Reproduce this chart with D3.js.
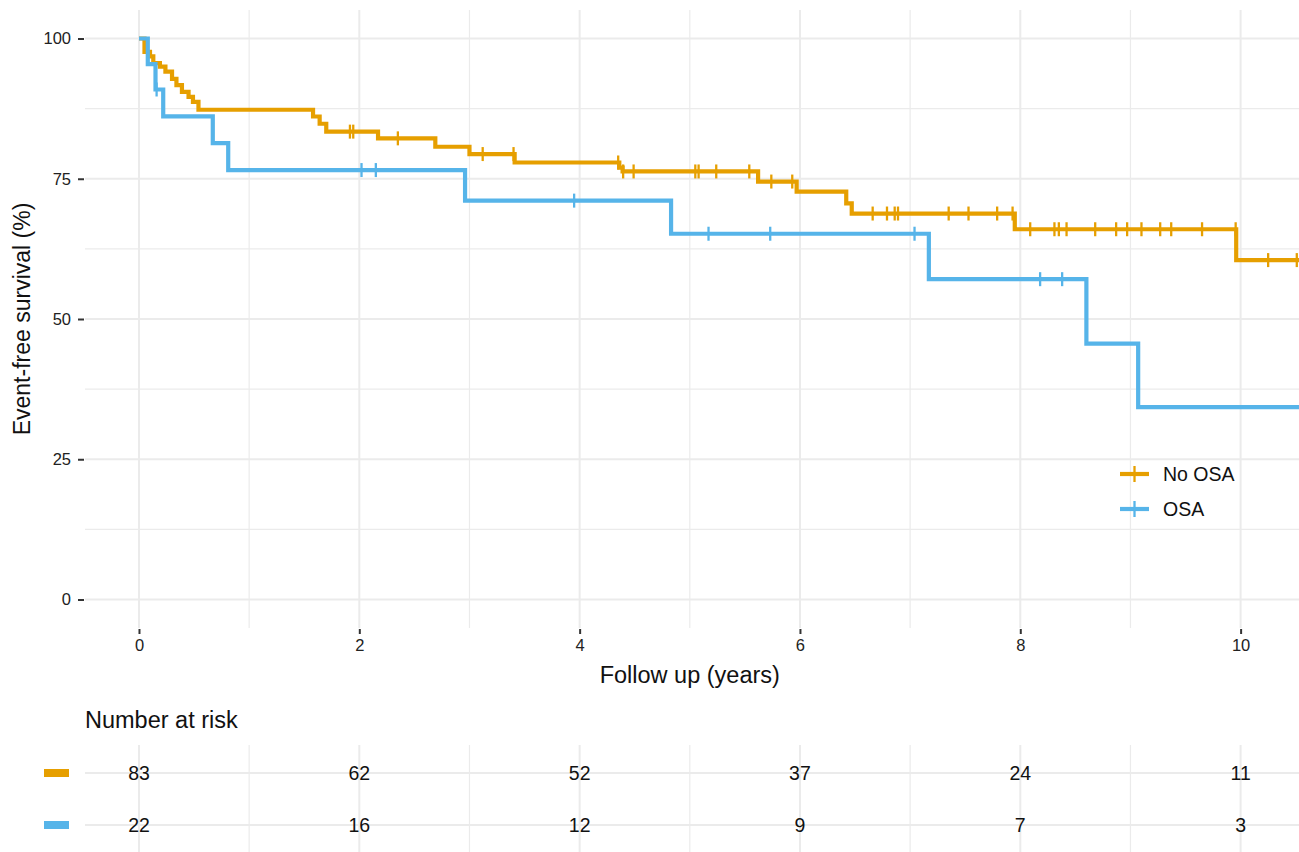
<!DOCTYPE html>
<html>
<head>
<meta charset="utf-8">
<script src="https://cdn.jsdelivr.net/npm/d3@7"></script>
<style>
  html, body { margin: 0; padding: 0; background: #fff; }
  svg { display: block; font-family: "Liberation Sans", Arial, Helvetica, sans-serif; }
</style>
</head>
<body>
<svg id="chart" width="1299" height="852"></svg>
<script>
// ---------------- DATA ----------------
const categories = ["No OSA", "OSA"];
const colors = ["#E69F00", "#56B4E9"];

// No OSA: step times (years) and survival (%) after each step
const noOsaTimes = [0, 0.05, 0.10, 0.13, 0.19, 0.24, 0.30, 0.34, 0.39, 0.45, 0.49, 0.54,
                    1.58, 1.64, 1.70, 2.17, 2.69, 3.00, 3.41, 4.36, 4.39, 5.62, 5.97, 6.42, 6.47, 7.95, 9.96];
const noOsaSurv  = [100, 97.6, 96.8, 95.6, 95.0, 94.1, 92.8, 91.7, 90.5, 89.6, 88.7, 87.3,
                    86.1, 84.8, 83.4, 82.2, 80.7, 79.4, 77.9, 77.0, 76.3, 74.5, 72.7, 70.6, 68.8, 66.0, 60.5];
const noOsaCensor = [1.915, 1.945, 2.35, 3.12, 3.40, 4.35, 4.395, 4.49, 5.05, 5.08, 5.24, 5.54, 5.74, 5.93,
                     6.66, 6.79, 6.86, 6.89, 7.35, 7.53, 7.79, 7.93, 8.09, 8.31, 8.35, 8.42, 8.68, 8.87,
                     8.97, 9.10, 9.27, 9.37, 9.65, 9.955, 10.25, 10.51];

// OSA
const osaTimes = [0, 0.08, 0.15, 0.22, 0.67, 0.81, 2.96, 4.83, 7.17, 8.60, 9.07];
const osaSurv  = [100, 95.45, 90.91, 86.12, 81.34, 76.55, 71.1, 65.2, 57.1, 45.6, 34.3];
const osaCensor = [0.16, 2.02, 2.15, 3.95, 5.17, 5.73, 7.04, 8.18, 8.38];

// Number at risk
const riskTimes = [0, 2, 4, 6, 8, 10];
const noOsaRisk = [83, 62, 52, 37, 24, 11];
const osaRisk   = [22, 16, 12, 9, 7, 3];

const xTicks = [0, 2, 4, 6, 8, 10];
const xMinor = [1, 3, 5, 7, 9];
const yTicks = [0, 25, 50, 75, 100];
const yMinor = [12.5, 37.5, 62.5, 87.5];

const xTitle = "Follow up (years)";
const yTitle = "Event-free survival (%)";
const riskTitle = "Number at risk";

// ---------------- LAYOUT ----------------
const svg = d3.select("#chart");
const panel = { left: 85, right: 1299, top: 10, bottom: 628 };
const x = d3.scaleLinear().domain([-0.49, 10.53]).range([panel.left, panel.right]);
const y = d3.scaleLinear().domain([0, 100]).range([599.5, 38.5]);
const grid = "#ebebeb";

svg.append("defs").append("clipPath").attr("id", "clip")
  .append("rect").attr("x", panel.left).attr("y", panel.top)
  .attr("width", panel.right - panel.left).attr("height", panel.bottom - panel.top);

// gridlines
const g = svg.append("g");
g.selectAll(".ymin").data(yMinor).join("line")
  .attr("x1", panel.left).attr("x2", panel.right)
  .attr("y1", d => y(d)).attr("y2", d => y(d))
  .attr("stroke", grid).attr("stroke-width", 1.2);
g.selectAll(".xmin").data(xMinor).join("line")
  .attr("y1", panel.top).attr("y2", panel.bottom)
  .attr("x1", d => x(d)).attr("x2", d => x(d))
  .attr("stroke", grid).attr("stroke-width", 1.2);
g.selectAll(".ymaj").data(yTicks).join("line")
  .attr("x1", panel.left).attr("x2", panel.right)
  .attr("y1", d => y(d)).attr("y2", d => y(d))
  .attr("stroke", grid).attr("stroke-width", 2);
g.selectAll(".xmaj").data(xTicks).join("line")
  .attr("y1", panel.top).attr("y2", panel.bottom)
  .attr("x1", d => x(d)).attr("x2", d => x(d))
  .attr("stroke", grid).attr("stroke-width", 2);

// axes
const yAxis = svg.append("g").attr("transform", `translate(${panel.left - 1},0)`)
  .call(d3.axisLeft(y).tickValues(yTicks).tickSize(6).tickPadding(7));
const xAxis = svg.append("g").attr("transform", `translate(0,${panel.bottom + 1})`)
  .call(d3.axisBottom(x).tickValues(xTicks).tickSize(5).tickPadding(5));
[yAxis, xAxis].forEach(a => {
  a.attr("font-size", null).attr("font-family", null);
  a.select(".domain").remove();
  a.selectAll("line").attr("stroke", "#333").attr("stroke-width", 2);
  a.selectAll("text").attr("fill", "#222").style("font-size", "16.5px")
    .style("font-family", "'Liberation Sans', Arial, sans-serif");
});

svg.append("text").attr("x", x(5.0)).attr("y", 683).attr("text-anchor", "middle")
  .style("font-size", "23.5px").attr("fill", "#111").text(xTitle);
svg.append("text").attr("transform", `translate(30,${y(50)}) rotate(-90)`)
  .attr("text-anchor", "middle").style("font-size", "23px").attr("fill", "#111").text(yTitle);

// curves
function stepPath(times, surv) {
  const pts = times.map((t, i) => [t, surv[i]]);
  pts.push([x.domain()[1], surv[surv.length - 1]]);
  return d3.line().x(d => x(d[0])).y(d => y(d[1])).curve(d3.curveStepAfter)(pts);
}
function survAt(times, surv, t) {
  let v = surv[0];
  for (let i = 0; i < times.length; i++) if (times[i] <= t) v = surv[i];
  return v;
}
const series = [
  { times: noOsaTimes, surv: noOsaSurv, cens: noOsaCensor, color: colors[0] },
  { times: osaTimes, surv: osaSurv, cens: osaCensor, color: colors[1] }
];
const plot = svg.append("g").attr("clip-path", "url(#clip)");
series.forEach(s => {
  plot.append("path").attr("d", stepPath(s.times, s.surv))
    .attr("fill", "none").attr("stroke", s.color).attr("stroke-width", 4.2)
    .attr("stroke-linejoin", "miter");
  plot.selectAll(null).data(s.cens).join("line")
    .attr("x1", d => x(d)).attr("x2", d => x(d))
    .attr("y1", d => y(survAt(s.times, s.surv, d)) - 7)
    .attr("y2", d => y(survAt(s.times, s.surv, d)) + 7)
    .attr("stroke", s.color).attr("stroke-width", 2.3);
});

// legend
const leg = svg.append("g");
categories.forEach((c, i) => {
  const ly = 474 + i * 35;
  leg.append("line").attr("x1", 1120).attr("x2", 1149).attr("y1", ly).attr("y2", ly)
    .attr("stroke", colors[i]).attr("stroke-width", 4.2);
  leg.append("line").attr("x1", 1134.5).attr("x2", 1134.5).attr("y1", ly - 8).attr("y2", ly + 8)
    .attr("stroke", colors[i]).attr("stroke-width", 2.3);
  leg.append("text").attr("x", 1163).attr("y", ly + 7).style("font-size", "19.5px")
    .attr("fill", "#111").text(c);
});

// risk table
svg.append("text").attr("x", 85).attr("y", 728).style("font-size", "23.5px")
  .attr("fill", "#111").text(riskTitle);
const rowsY = [773, 825];
const tg = svg.append("g");
tg.selectAll(".tv").data(xTicks.concat(xMinor)).join("line")
  .attr("x1", d => x(d)).attr("x2", d => x(d)).attr("y1", 745).attr("y2", 852)
  .attr("stroke", grid).attr("stroke-width", d => xTicks.includes(d) ? 2 : 1.2);
tg.selectAll(".th").data(rowsY).join("line")
  .attr("x1", panel.left).attr("x2", panel.right).attr("y1", d => d).attr("y2", d => d)
  .attr("stroke", grid).attr("stroke-width", 2);
[noOsaRisk, osaRisk].forEach((arr, i) => {
  tg.append("rect").attr("x", 44).attr("y", rowsY[i] - 4).attr("width", 25).attr("height", 8)
    .attr("fill", colors[i]);
  tg.selectAll(null).data(arr).join("text")
    .attr("x", (d, j) => x(riskTimes[j])).attr("y", rowsY[i] + 7)
    .attr("text-anchor", "middle").style("font-size", "19.5px").attr("fill", "#111")
    .text(d => d);
});
</script>
</body>
</html>
